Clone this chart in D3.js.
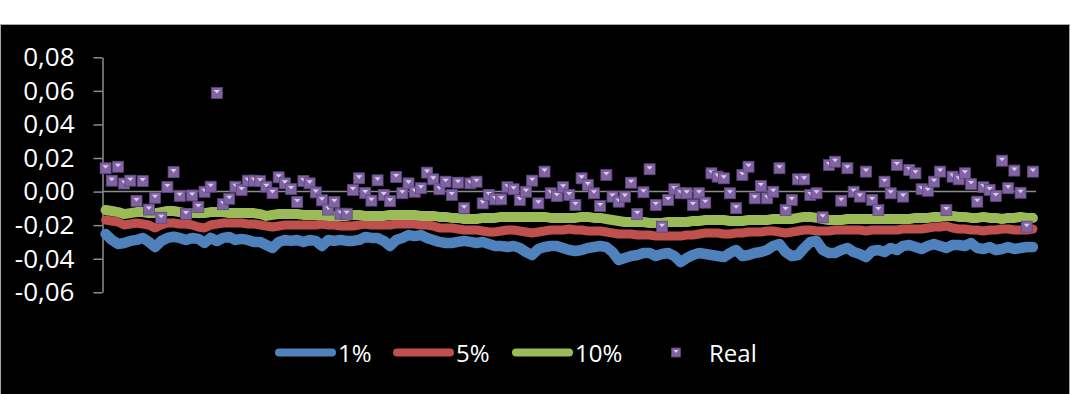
<!DOCTYPE html>
<html>
<head>
<meta charset="utf-8">
<script src="https://cdn.jsdelivr.net/npm/d3@7"></script>
<style>
  html, body { margin: 0; padding: 0; background: #ffffff; }
  svg { display: block; }
  text { font-family: "Open Sans", "Liberation Sans", sans-serif; fill: #ffffff; }
  .y-axis text { font-size: 26px; }
</style>
</head>
<body>
<div id="chart"></div>
<script>
const seriesNames = ['1%', '5%', '10%', 'Real'];
const yTicks = [-0.06, -0.04, -0.02, 0.00, 0.02, 0.04, 0.06, 0.08];

const pct1 = [
  -0.0253, -0.0288, -0.0312, -0.0306, -0.0294, -0.0288, -0.0276, -0.0300, -0.0330, -0.0294,
  -0.0276, -0.0269, -0.0276, -0.0288, -0.0276, -0.0282, -0.0306, -0.0276, -0.0294, -0.0276,
  -0.0270, -0.0288, -0.0282, -0.0288, -0.0300, -0.0300, -0.0318, -0.0336, -0.0300, -0.0288,
  -0.0294, -0.0288, -0.0300, -0.0288, -0.0294, -0.0324, -0.0288, -0.0294, -0.0288, -0.0294,
  -0.0294, -0.0288, -0.0270, -0.0276, -0.0276, -0.0294, -0.0324, -0.0288, -0.0276, -0.0259,
  -0.0265, -0.0259, -0.0276, -0.0288, -0.0300, -0.0306, -0.0306, -0.0300, -0.0294, -0.0300,
  -0.0306, -0.0300, -0.0312, -0.0324, -0.0324, -0.0330, -0.0324, -0.0336, -0.0360, -0.0378,
  -0.0342, -0.0330, -0.0324, -0.0324, -0.0336, -0.0348, -0.0354, -0.0348, -0.0336, -0.0330,
  -0.0324, -0.0330, -0.0360, -0.0408, -0.0396, -0.0384, -0.0378, -0.0366, -0.0366, -0.0384,
  -0.0372, -0.0366, -0.0384, -0.0420, -0.0396, -0.0378, -0.0366, -0.0372, -0.0378, -0.0384,
  -0.0390, -0.0366, -0.0348, -0.0384, -0.0378, -0.0366, -0.0360, -0.0348, -0.0324, -0.0312,
  -0.0360, -0.0384, -0.0378, -0.0336, -0.0300, -0.0294, -0.0348, -0.0366, -0.0366, -0.0348,
  -0.0336, -0.0360, -0.0372, -0.0390, -0.0354, -0.0348, -0.0360, -0.0336, -0.0348, -0.0324,
  -0.0318, -0.0330, -0.0342, -0.0324, -0.0312, -0.0324, -0.0336, -0.0318, -0.0318, -0.0324,
  -0.0306, -0.0336, -0.0342, -0.0330, -0.0348, -0.0342, -0.0330, -0.0342, -0.0336, -0.0330, -0.0330
];

const pct5 = [
  -0.0169, -0.0175, -0.0181, -0.0199, -0.0193, -0.0187, -0.0193, -0.0199, -0.0217, -0.0199,
  -0.0187, -0.0187, -0.0193, -0.0193, -0.0199, -0.0211, -0.0217, -0.0199, -0.0193, -0.0187,
  -0.0187, -0.0187, -0.0187, -0.0193, -0.0193, -0.0199, -0.0205, -0.0211, -0.0205, -0.0199,
  -0.0199, -0.0199, -0.0199, -0.0199, -0.0199, -0.0193, -0.0199, -0.0199, -0.0205, -0.0205,
  -0.0205, -0.0199, -0.0193, -0.0199, -0.0199, -0.0199, -0.0199, -0.0193, -0.0193, -0.0193,
  -0.0193, -0.0199, -0.0199, -0.0205, -0.0217, -0.0217, -0.0217, -0.0223, -0.0229, -0.0229,
  -0.0229, -0.0235, -0.0241, -0.0241, -0.0235, -0.0229, -0.0229, -0.0235, -0.0241, -0.0247,
  -0.0241, -0.0235, -0.0229, -0.0229, -0.0229, -0.0223, -0.0229, -0.0229, -0.0235, -0.0235,
  -0.0235, -0.0241, -0.0247, -0.0253, -0.0253, -0.0253, -0.0259, -0.0259, -0.0259, -0.0265,
  -0.0265, -0.0265, -0.0265, -0.0265, -0.0259, -0.0259, -0.0253, -0.0247, -0.0247, -0.0247,
  -0.0253, -0.0253, -0.0247, -0.0247, -0.0241, -0.0241, -0.0241, -0.0235, -0.0235, -0.0241,
  -0.0247, -0.0241, -0.0235, -0.0229, -0.0229, -0.0235, -0.0235, -0.0235, -0.0229, -0.0229,
  -0.0229, -0.0229, -0.0229, -0.0235, -0.0229, -0.0229, -0.0229, -0.0229, -0.0229, -0.0223,
  -0.0223, -0.0223, -0.0223, -0.0217, -0.0211, -0.0211, -0.0205, -0.0217, -0.0223, -0.0223,
  -0.0229, -0.0229, -0.0235, -0.0229, -0.0229, -0.0223, -0.0223, -0.0229, -0.0229, -0.0229, -0.0223
];

const pct10 = [
  -0.0110, -0.0116, -0.0122, -0.0134, -0.0128, -0.0122, -0.0122, -0.0128, -0.0128, -0.0122,
  -0.0116, -0.0116, -0.0122, -0.0128, -0.0128, -0.0128, -0.0128, -0.0122, -0.0122, -0.0122,
  -0.0128, -0.0128, -0.0128, -0.0128, -0.0128, -0.0134, -0.0145, -0.0139, -0.0134, -0.0134,
  -0.0134, -0.0134, -0.0139, -0.0139, -0.0139, -0.0139, -0.0145, -0.0145, -0.0145, -0.0145,
  -0.0139, -0.0139, -0.0145, -0.0145, -0.0145, -0.0145, -0.0139, -0.0139, -0.0139, -0.0139,
  -0.0139, -0.0145, -0.0145, -0.0145, -0.0151, -0.0151, -0.0157, -0.0157, -0.0163, -0.0163,
  -0.0163, -0.0157, -0.0157, -0.0157, -0.0151, -0.0151, -0.0151, -0.0151, -0.0151, -0.0151,
  -0.0151, -0.0151, -0.0157, -0.0157, -0.0157, -0.0157, -0.0157, -0.0151, -0.0151, -0.0157,
  -0.0157, -0.0163, -0.0169, -0.0175, -0.0181, -0.0181, -0.0181, -0.0181, -0.0187, -0.0187,
  -0.0187, -0.0181, -0.0181, -0.0181, -0.0181, -0.0175, -0.0175, -0.0169, -0.0169, -0.0169,
  -0.0169, -0.0175, -0.0175, -0.0175, -0.0169, -0.0169, -0.0169, -0.0169, -0.0163, -0.0163,
  -0.0163, -0.0163, -0.0157, -0.0151, -0.0151, -0.0157, -0.0163, -0.0169, -0.0169, -0.0169,
  -0.0163, -0.0163, -0.0163, -0.0163, -0.0163, -0.0163, -0.0163, -0.0163, -0.0163, -0.0163,
  -0.0163, -0.0157, -0.0157, -0.0157, -0.0151, -0.0151, -0.0145, -0.0145, -0.0151, -0.0151,
  -0.0157, -0.0157, -0.0151, -0.0157, -0.0157, -0.0163, -0.0157, -0.0157, -0.0151, -0.0157, -0.0157
];

const real = [
  0.0139, 0.0065, 0.0148, 0.0048, 0.0065, -0.0056, 0.0063, -0.0107, -0.0037, -0.0156,
  0.0027, 0.0116, -0.0025, -0.0133, -0.0023, -0.0092, -0.0001, 0.0029, 0.0587, -0.0075,
  -0.0043, 0.0029, 0.0010, 0.0065, 0.0065, 0.0062, 0.0029, -0.0008, 0.0085, 0.0049,
  0.0015, -0.0062, 0.0063, 0.0049, -0.0005, -0.0052, -0.0107, -0.0062, -0.0132, -0.0132,
  0.0010, 0.0079, -0.0008, -0.0054, 0.0067, -0.0020, -0.0057, 0.0087, -0.0010, 0.0049,
  -0.0001, 0.0020, 0.0113, 0.0073, 0.0014, 0.0059, -0.0020, 0.0053, -0.0099, 0.0049,
  0.0059, -0.0070, -0.0020, -0.0046, -0.0046, 0.0026, 0.0014, -0.0050, -0.0001, 0.0065,
  -0.0070, 0.0119, -0.0010, -0.0026, 0.0026, -0.0020, -0.0080, 0.0079, 0.0039, -0.0010,
  -0.0086, 0.0099, -0.0030, -0.0060, -0.0030, 0.0053, -0.0133, -0.0004, 0.0133, -0.0080,
  -0.0209, -0.0050, 0.0014, -0.0010, -0.0010, -0.0080, -0.0010, -0.0066, 0.0109, 0.0089,
  0.0079, -0.0010, -0.0099, 0.0099, 0.0148, -0.0040, 0.0033, -0.0040, -0.0001, 0.0139,
  -0.0110, -0.0050, 0.0073, 0.0073, -0.0020, -0.0010, -0.0153, 0.0158, 0.0178, -0.0054,
  0.0139, -0.0001, -0.0030, 0.0119, -0.0050, -0.0110, 0.0059, -0.0010, 0.0158, -0.0030,
  0.0129, 0.0109, 0.0014, 0.0005, 0.0059, 0.0119, -0.0110, 0.0089, 0.0073, 0.0109,
  0.0045, -0.0060, 0.0026, 0.0010, -0.0026, 0.0184, 0.0020, 0.0125, -0.0007, -0.0209, 0.0119
];

const lineSeries = [
  { name: seriesNames[0], values: pct1, color: '#4f81bd', width: 10.5 },
  { name: seriesNames[1], values: pct5, color: '#c0504d', width: 9 },
  { name: seriesNames[2], values: pct10, color: '#9bbb59', width: 10 },
];

const W = 1071, H = 394;
const svg = d3.select('#chart').append('svg')
  .attr('width', W)
  .attr('height', H);

// black chart area with a thin grey frame
svg.append('rect')
  .attr('x', 0.5).attr('y', 24.5)
  .attr('width', 1069).attr('height', 372)
  .attr('fill', '#000000')
  .attr('stroke', '#a6a6a6')
  .attr('stroke-width', 1);

const x = d3.scalePoint()
  .domain(d3.range(real.length))
  .range([102.5, 1036])
  .padding(0.5);

const y = d3.scaleLinear()
  .domain([-0.06, 0.08])
  .range([292.3, 57.3]);

const comma = d3.formatLocale({ decimal: ',', thousands: '.', grouping: [3], currency: ['', ''], minus: '-' });

const yAxis = svg.append('g')
  .attr('class', 'y-axis')
  .attr('transform', 'translate(102.5,0)')
  .call(d3.axisLeft(y)
    .tickValues(yTicks)
    .tickFormat(comma.format('.2f'))
    .tickSizeInner(9)
    .tickSizeOuter(0)
    .tickPadding(19))
  .attr('font-size', 26)
  .attr('font-family', '"Open Sans", sans-serif');
yAxis.select('.domain').attr('stroke', '#8c8c8c').attr('stroke-width', 1.5);
yAxis.selectAll('.tick line').attr('stroke', '#8c8c8c').attr('stroke-width', 1.5);
yAxis.selectAll('.tick text').attr('fill', '#ffffff');

// category axis at zero
svg.append('line')
  .attr('x1', 102.5).attr('x2', 1036)
  .attr('y1', y(0)).attr('y2', y(0))
  .attr('stroke', '#8c8c8c')
  .attr('stroke-width', 1.5);

const line = d3.line()
  .x((d, i) => x(i))
  .y(d => y(d));

svg.append('g').selectAll('path')
  .data(lineSeries)
  .join('path')
  .attr('d', d => line(d.values))
  .attr('fill', 'none')
  .attr('stroke', d => d.color)
  .attr('stroke-width', d => d.width)
  .attr('stroke-linejoin', 'round')
  .attr('stroke-linecap', 'round');

function drawMarker(g, size) {
  const h = size / 2;
  g.append('rect')
    .attr('x', -h).attr('y', -h)
    .attr('width', size).attr('height', size)
    .attr('fill', '#8064a2')
    .attr('stroke', '#5c4680')
    .attr('stroke-width', 0.8);
  g.append('path')
    .attr('d', `M${-h * 0.55},${-h * 0.55}L${h * 0.55},${-h * 0.55}L0,${h * 0.1}Z`)
    .attr('fill', '#d9ccec');
}

svg.append('g').selectAll('g')
  .data(real)
  .join('g')
  .attr('transform', (d, i) => `translate(${x(i)},${y(d)})`)
  .each(function () { drawMarker(d3.select(this), 11); });

// legend
const legend = svg.append('g').attr('class', 'legend');
const legendItems = [
  { name: seriesNames[0], color: '#4f81bd', x0: 275 },
  { name: seriesNames[1], color: '#c0504d', x0: 393 },
  { name: seriesNames[2], color: '#9bbb59', x0: 512 },
];
const ly = 352.5;
legendItems.forEach(it => {
  legend.append('line')
    .attr('x1', it.x0 + 4).attr('x2', it.x0 + 57)
    .attr('y1', ly).attr('y2', ly)
    .attr('stroke', it.color)
    .attr('stroke-width', 8)
    .attr('stroke-linecap', 'round');
  legend.append('text')
    .attr('x', it.x0 + 63)
    .attr('y', ly)
    .attr('dominant-baseline', 'central')
    .style('font-size', '24px')
    .text(it.name);
});
drawMarker(legend.append('g').attr('transform', `translate(676,${ly})`), 9);
legend.append('text')
  .attr('x', 709)
  .attr('y', ly)
  .attr('dominant-baseline', 'central')
  .style('font-size', '24px')
  .text(seriesNames[3]);
</script>
</body>
</html>
